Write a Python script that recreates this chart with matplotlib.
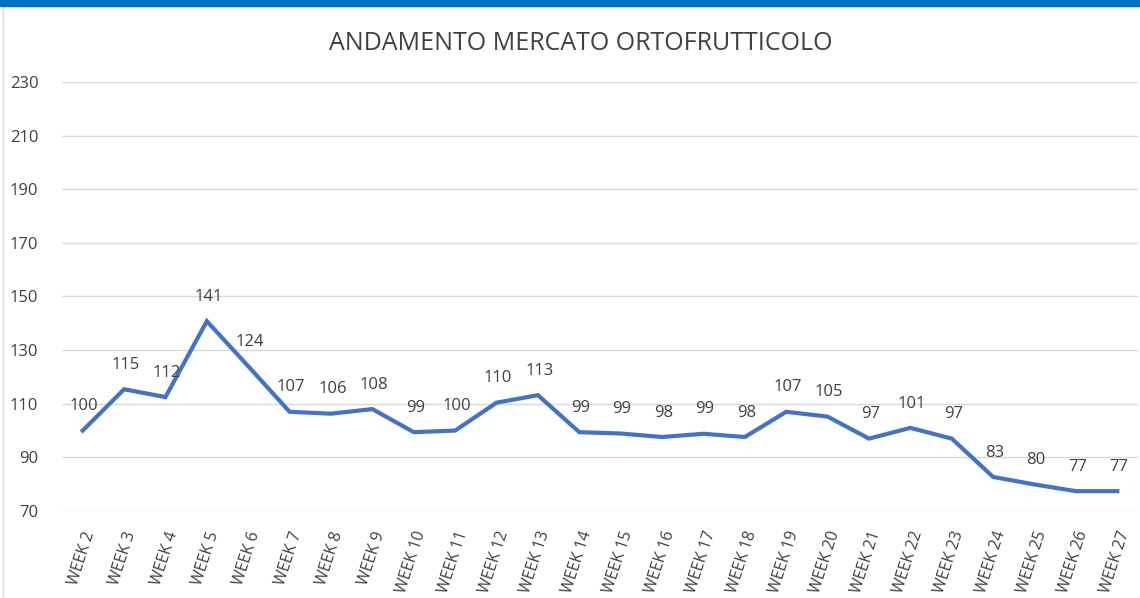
import matplotlib.pyplot as plt
from matplotlib.patches import Rectangle
from matplotlib.lines import Line2D

# data
weeks = [f"WEEK {i}" for i in range(2, 28)]
values = [100.0, 115.4, 112.5, 140.8, 124.0, 107.0, 106.3, 108.0, 99.4, 100.0,
          110.4, 113.2, 99.4, 98.9, 97.6, 98.8, 97.6, 107.0, 105.2, 97.0,
          101.0, 97.0, 82.7, 79.9, 77.4, 77.4]
yticks = [70, 90, 110, 130, 150, 170, 190, 210, 230]

plt.rcParams['font.family'] = ['Open Sans', 'DejaVu Sans']
text_col = '#404040'

fig = plt.figure(figsize=(11.4, 5.98), dpi=100)
fig.patch.set_facecolor('white')

# blue strip on top and thin grey frame on the left
fig.add_artist(Rectangle((0, 1 - 6 / 598), 1, 6 / 598, transform=fig.transFigure,
                         color='#0070C0', zorder=5))
fig.add_artist(Line2D([3 / 1140, 3 / 1140], [0, 1 - 6 / 598], transform=fig.transFigure,
                      color='#D9D9D9', lw=1))

ax = fig.add_axes([62 / 1140, 1 - 511 / 598, 1076 / 1140, 429 / 598])
x = list(range(len(weeks)))
ax.plot(x, values, color='#4472C4', lw=3, solid_joinstyle='miter', zorder=3)

for xi, v in zip(x, values):
    ax.annotate(f"{v:.0f}", (xi, v), xytext=(1, 17.5), textcoords='offset points',
                ha='center', va='center', fontsize=12, color=text_col)

ax.set_xlim(-0.5, len(weeks) - 0.5)
ax.set_ylim(70, 230)
ax.set_yticks(yticks)
ax.set_xticks(x)
ax.set_xticklabels(weeks, rotation=72, ha='right', va='top', rotation_mode='anchor',
                   fontsize=11.5, color=text_col)
ax.tick_params(axis='y', length=0, pad=17, labelsize=12, labelcolor=text_col)
ax.tick_params(axis='x', length=0, pad=13)
ax.grid(axis='y', color='#D9D9D9', lw=1)
ax.set_axisbelow(True)
for s in ax.spines.values():
    s.set_visible(False)

fig.text(581 / 1140, 1 - 43 / 598, "ANDAMENTO MERCATO ORTOFRUTTICOLO", ha='center', va='center',
         fontsize=18, color=text_col)

fig.savefig('out.png', dpi=100)
